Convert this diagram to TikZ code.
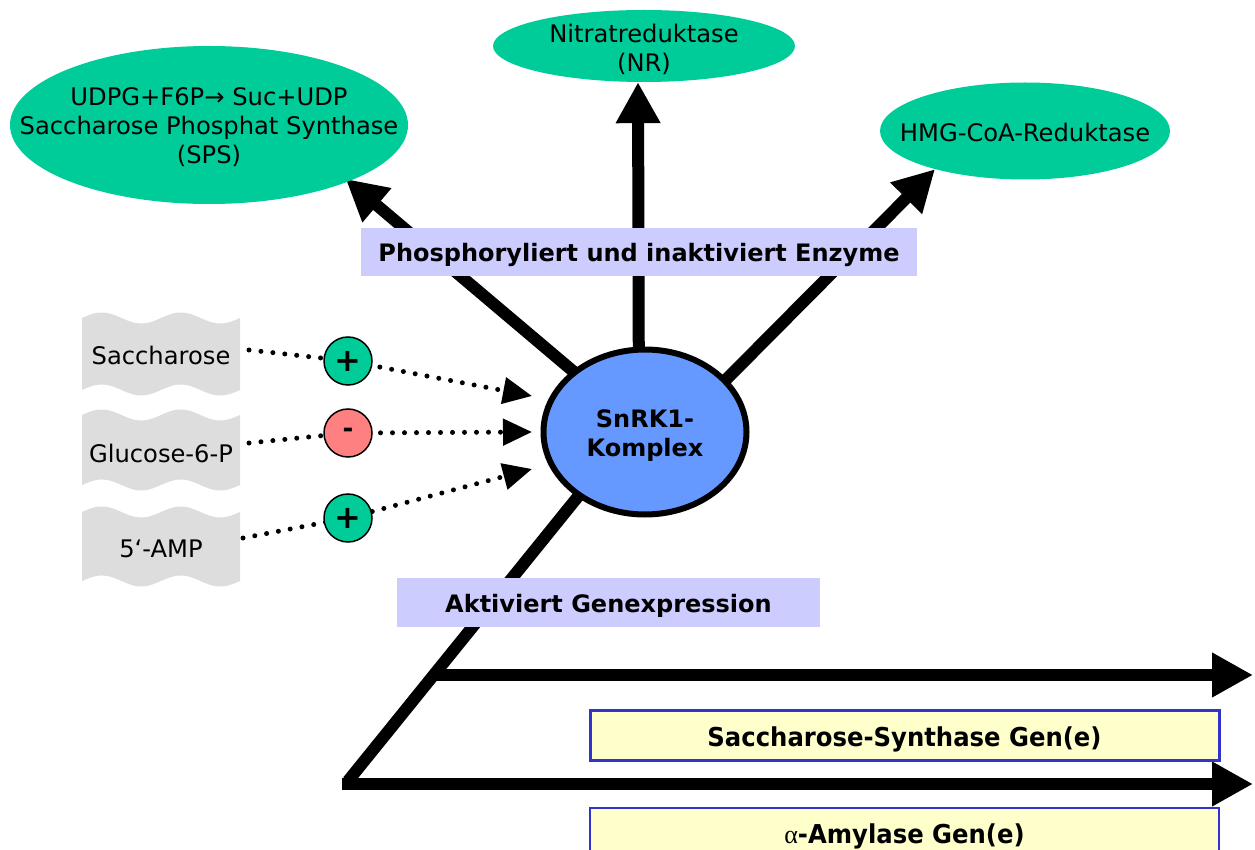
\documentclass[tikz,border=0pt]{standalone}
\usepackage{fontspec}
\setmainfont{DejaVu Sans}
\newfontfamily\condfont{DejaVu Sans}[FakeStretch=0.935]
\newfontfamily\alphafont{Liberation Serif}
\usetikzlibrary{shapes.geometric,arrows.meta}
\definecolor{enz}{RGB}{0,204,153}
\definecolor{snblue}{RGB}{102,153,255}
\definecolor{labfill}{RGB}{204,204,255}
\definecolor{genfill}{RGB}{255,255,204}
\definecolor{genborder}{RGB}{51,51,204}
\definecolor{grayfill}{RGB}{221,221,221}
\definecolor{negfill}{RGB}{255,128,128}
\pgfdeclarelayer{background}
\pgfsetlayers{background,main}
\tikzset{
  enzyme/.style={ellipse, fill=enz, inner sep=0pt},
  enztext/.style={align=center, inner sep=0pt, font=\fontsize{24.2}{29}\selectfont},
  snrk/.style={ellipse, fill=snblue, draw=black, line width=6pt, inner sep=0pt,
    minimum width=203pt, minimum height=165pt},
  snrktext/.style={align=center, inner sep=0pt, font=\fontsize{24}{29}\selectfont\bfseries},
  labbox/.style={rectangle, fill=labfill, inner sep=0pt, text height=24pt,
    font=\fontsize{24}{29}\selectfont\bfseries},
  genbox/.style={rectangle, fill=genfill, draw=genborder, inner sep=0pt, minimum width=629pt,
    minimum height=50pt, text height=27pt, font=\fontsize{26}{30}\selectfont\condfont\bfseries},
  signcirc/.style={circle, draw=black, line width=1.5pt, minimum size=48pt, inner sep=0pt,
    font=\fontsize{32}{34}\selectfont\bfseries},
  graytext/.style={font=\fontsize{24.2}{29}\selectfont, inner sep=0pt},
  bigarrow/.style={line width=12pt, -{Triangle[length=41pt,width=42pt]}},
  bigline/.style={line width=12pt},
  dotarrow/.style={line width=5pt, line cap=round, dash pattern=on 0pt off 12pt,
    -{Triangle[length=29pt,width=26pt]}}
}
\begin{document}
\begin{tikzpicture}[x=1pt,y=-1pt]
\useasboundingbox (0,0) rectangle (1255,850);

% gray input boxes (punched tape)
\foreach \yt/\yb in {318/390, 415/485, 512/581} {
  \fill[grayfill] plot[domain=82:240, samples=80, smooth] (\x, {\yt - 5.5*sin(4.557*(\x-82))})
    -- plot[domain=240:82, samples=80, smooth] (\x, {\yb - 5.5*sin(4.557*(\x-82))}) -- cycle;
}
\node[graytext] (sac) at (161,355.5) {Saccharose};
\node[graytext] (glc) at (161,453.5) {Glucose-6-P};
\node[graytext] (amp) at (161,548.5) {5‘-AMP};

% enzymes
\node[enzyme, minimum width=398pt, minimum height=158pt,
  label={[enztext, yshift=-2pt]center:UDPG+F6P→ Suc+UDP\\Saccharose Phosphat Synthase\\(SPS)}] (sps) at (209,125) {};
\node[enzyme, minimum width=302pt, minimum height=72pt,
  label={[enztext, yshift=-3pt]center:Nitratreduktase\\(NR)}] (nr) at (644,46) {};
\node[enzyme, minimum width=290pt, minimum height=97pt,
  label={[enztext, yshift=-1pt]center:HMG-CoA-Reduktase}] (hmg) at (1025,131) {};

% central complex
\node[snrk, label={[snrktext, yshift=-3.5pt]center:SnRK1-\\Komplex}] (sn) at (645,432) {};

% sign circles
\node[signcirc, fill=enz] (p1) at (348,361) {+};
\node[signcirc, fill=negfill, font=\fontsize{26}{30}\selectfont\bfseries] (p2) at (348,433) {-};
\node[signcirc, fill=enz] (p3) at (348,518) {+};

% coordinates
\coordinate (s1) at (249,350);
\coordinate (s2) at (249,443);
\coordinate (s3) at (243,538);
\coordinate (t1) at (532,396);
\coordinate (t2) at (532,432);
\coordinate (t3) at (532,469);
\coordinate (corner) at (348,781);
\coordinate (b1) at (434,675);
\coordinate (e1) at (1253,675);
\coordinate (c2) at (342,784);
\coordinate (e2) at (1253,784);

% labels
\node[labbox, minimum width=556pt, minimum height=48pt] (l1) at (639,252) {Phosphoryliert und inaktiviert Enzyme};
\node[labbox, minimum width=423pt, minimum height=49pt] (l2) at (608.5,602.5) {Aktiviert Genexpression};

% gene boxes
\node[genbox, line width=3pt] (g1) at (904.5,735.5) {Saccharose-Synthase Gen(e)};
\node[genbox, line width=1.5pt] (g2) at (904.5,833) {{\alphafont\mdseries α}-Amylase Gen(e)};

\begin{pgfonlayer}{background}
  \draw[bigarrow, shorten >=-4pt] (sn.center) -- (sps.-22);
  \draw[bigarrow] ([xshift=-6pt]sn.center) -- ([xshift=-6pt]nr.south);
  \draw[bigarrow, shorten <=-12pt] (sn.33) -- (hmg.203);
  \draw[bigline, shorten <=-12pt] (sn.224) -- (corner);
  \draw[bigarrow] (b1) -- (e1);
  \draw[bigarrow] (c2) -- (e2);
  \draw[dotarrow] (s1) -- (p1.center) -- (t1);
  \draw[dotarrow] (s2) -- (p2.center) -- (t2);
  \draw[dotarrow] (s3) -- (p3.center) -- (t3);
\end{pgfonlayer}
\end{tikzpicture}
\end{document}
